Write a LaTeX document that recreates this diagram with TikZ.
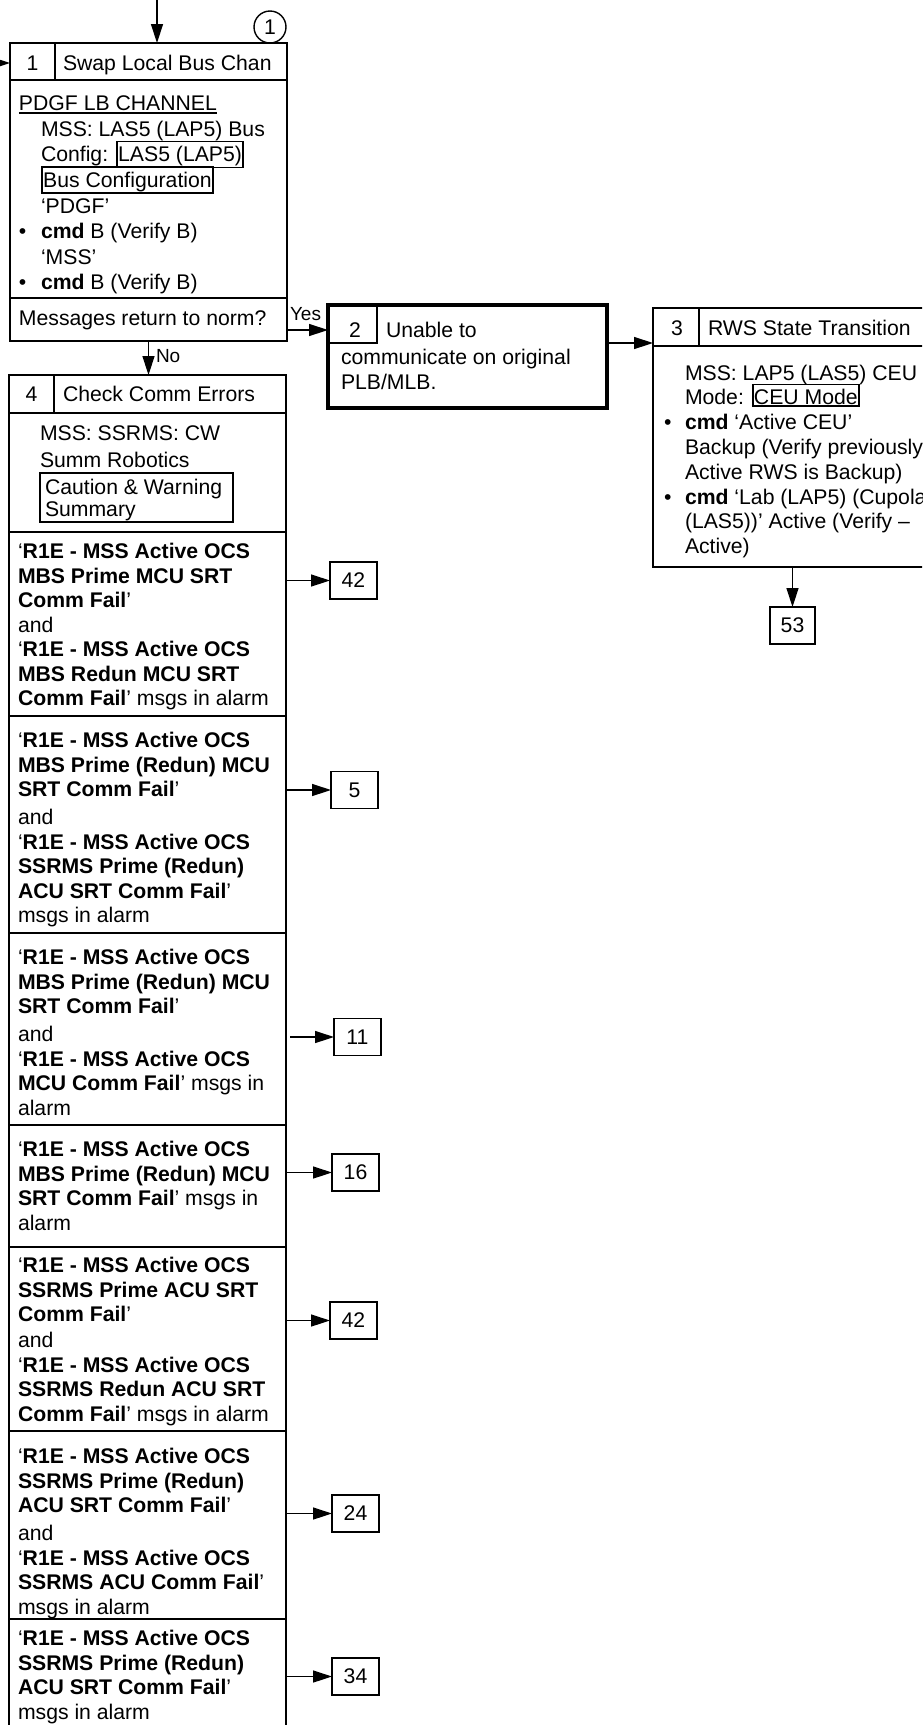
\documentclass[tikz,border=0pt]{standalone}
\usepackage{fontspec}
\setmainfont{Liberation Sans}
\usetikzlibrary{arrows.meta}
\newcommand\bx[1]{{\setlength\fboxsep{0.4pt}\setlength\fboxrule{1.8pt}\fbox{\rule{0pt}{19pt}#1}}}
\newcommand\myul[1]{\setbox0\hbox{#1}\rlap{\rule[-3.5pt]{\wd0}{1.7pt}}\box0}
\newcommand\firstln{\rule{0pt}{20pt}}
\newcommand\fsz[1]{\fontsize{21.2}{#1}\selectfont\lineskiplimit=-100pt\relax}
\begin{document}
\begin{tikzpicture}[x=1pt,y=-1pt,
  every node/.style={inner sep=0pt,outer sep=0pt},
  font={\fsz{24.5}},
  box/.style={draw,line width=2.2pt,anchor=north west},
  sepl/.style={line width=2pt},
  thinl/.style={line width=1.4pt},
  txt/.style={anchor=north west,align=left},
  lbl/.style={anchor=base west},
  refbox/.style={draw,line width=1.8pt,minimum width=47pt,minimum height=37pt},
  arr/.style={line width=1.4pt,-{Triangle[length=19pt,width=12pt]}}]
\path[use as bounding box] (0,0) rectangle (922,1725);
\clip (0,0) rectangle (922,1725);

% ---------- Box 1 ----------
\node[box,minimum width=277pt,minimum height=298pt] (b1) at (10,43) {};
\draw[sepl] (10,80) -- (287,80);
\draw[thinl] (55,43) -- (55,80);
\draw[sepl] (10,298) -- (287,298);
\node[anchor=base] (n1) at (32.5,70.6) {1};
\node[lbl] (h1) at (63,70.6) {Swap Local Bus Chan};
\node[txt,font={\fsz{25.6}}] (t1) at (19,90.6) {\firstln\myul{PDGF LB CHANNEL}\\
\hspace*{22pt}MSS: LAS5 (LAP5) Bus\\
\hspace*{22pt}Config: \bx{LAS5 (LAP5)}\\
\hspace*{22pt}\bx{Bus Configuration}\\
\hspace*{22pt}`PDGF'\\
\makebox[22pt][l]{\textbullet}\textbf{cmd} B (Verify B)\\
\hspace*{22pt}`MSS'\\
\makebox[22pt][l]{\textbullet}\textbf{cmd} B (Verify B)};
\node[txt] (t1m) at (19,305.6) {\firstln Messages return to norm?};
\node[draw,circle,thinl,minimum size=32pt] (c1) at (270,27) {1};

% ---------- Box 2 ----------
\node[box,line width=4.5pt,minimum width=279pt,minimum height=103pt] (b2) at (328,305) {};
\draw[thinl] (328,343) -| (377,305);
\node[anchor=base] (n2) at (355,337.6) {2};
\node[lbl] (h2) at (386,337.6) {Unable to};
\node[txt,font={\fsz{25}}] (t2) at (341,344.6) {\firstln communicate on original\\PLB/MLB.};

% ---------- Box 3 ----------
\node[box,minimum width=290pt,minimum height=259pt] (b3) at (653,308) {};
\draw[sepl] (653,346) -- (943,346);
\draw[thinl] (699,308) -- (699,346);
\node[anchor=base] (n3) at (677,335) {3};
\node[lbl] (h3) at (708,335) {RWS State Transition};
\node[txt,font={\fsz{24.8}}] (t3) at (664,360) {\firstln\hspace*{21pt}MSS: LAP5 (LAS5) CEU\\
\hspace*{21pt}Mode: \bx{CEU Mode}\\
\makebox[21pt][l]{\textbullet}\textbf{cmd} `Active CEU'\\
\hspace*{21pt}Backup (Verify previously\\
\hspace*{21pt}Active RWS is Backup)\\
\makebox[21pt][l]{\textbullet}\textbf{cmd} `Lab (LAP5) (Cupola\\
\hspace*{21pt}(LAS5))' Active (Verify --\\
\hspace*{21pt}Active)};
\node[refbox,minimum width=45pt] (r53) at (792.5,625.5) {53};

% ---------- Box 4 ----------
\node[box,minimum width=277pt,minimum height=1385pt] (b4) at (9,375) {};
\draw[sepl] (9,413) -- (286,413);
\draw[thinl] (54,375) -- (54,413);
\node[anchor=base] (n4) at (31.5,401.6) {4};
\node[lbl] (h4) at (63,401.6) {Check Comm Errors};
\node[txt,font={\fsz{27}}] (t4a) at (40,420.6) {\firstln MSS: SSRMS: CW\\Summ Robotics};
\node[draw,line width=1.8pt,anchor=north west,minimum width=193pt,minimum height=49pt] (cw) at (40,473) {};
\node[txt,font={\fsz{22}}] (t4b) at (45,474.6) {\firstln Caution \& Warning\\Summary};
\foreach \yy in {532,716,933,1125,1247,1431,1619} \draw[sepl] (9,\yy) -- (286,\yy);

\node[txt] (s1) at (18,538.6) {\firstln`\textbf{R1E - MSS Active OCS}\\
\textbf{MBS Prime MCU SRT}\\
\textbf{Comm Fail}'\\
and\\
`\textbf{R1E - MSS Active OCS}\\
\textbf{MBS Redun MCU SRT}\\
\textbf{Comm Fail}' msgs in alarm};

\node[txt] (s2) at (18,727.6) {\firstln`\textbf{R1E - MSS Active OCS}\\
\textbf{MBS Prime (Redun) MCU}\\
\textbf{SRT Comm Fail}'\\[3.5pt]
and\\
`\textbf{R1E - MSS Active OCS}\\
\textbf{SSRMS Prime (Redun)}\\
\textbf{ACU SRT Comm Fail}'\\
msgs in alarm};

\node[txt] (s3) at (18,944.6) {\firstln`\textbf{R1E - MSS Active OCS}\\
\textbf{MBS Prime (Redun) MCU}\\
\textbf{SRT Comm Fail}'\\[3.5pt]
and\\
`\textbf{R1E - MSS Active OCS}\\
\textbf{MCU Comm Fail}' msgs in\\
alarm};

\node[txt] (s4) at (18,1136.6) {\firstln`\textbf{R1E - MSS Active OCS}\\
\textbf{MBS Prime (Redun) MCU}\\
\textbf{SRT Comm Fail}' msgs in\\
alarm};

\node[txt] (s5) at (18,1252.6) {\firstln`\textbf{R1E - MSS Active OCS}\\
\textbf{SSRMS Prime ACU SRT}\\
\textbf{Comm Fail}'\\[1.5pt]
and\\
`\textbf{R1E - MSS Active OCS}\\
\textbf{SSRMS Redun ACU SRT}\\
\textbf{Comm Fail}' msgs in alarm};

\node[txt] (s6) at (18,1443.6) {\firstln`\textbf{R1E - MSS Active OCS}\\
\textbf{SSRMS Prime (Redun)}\\
\textbf{ACU SRT Comm Fail}'\\[3.5pt]
and\\
`\textbf{R1E - MSS Active OCS}\\
\textbf{SSRMS ACU Comm Fail}'\\
msgs in alarm};

\node[txt] (s7) at (18,1625.6) {\firstln`\textbf{R1E - MSS Active OCS}\\
\textbf{SSRMS Prime (Redun)}\\
\textbf{ACU SRT Comm Fail}'\\
msgs in alarm};

% ---------- reference boxes ----------
\node[refbox] (r42a) at (353.5,580.5) {42};
\node[refbox] (r5) at (354.5,790) {5};
\node[refbox] (r11) at (357.5,1037) {11};
\node[refbox] (r16) at (355.5,1172.5) {16};
\node[refbox] (r42b) at (353.5,1320.5) {42};
\node[refbox] (r24) at (355.5,1513.5) {24};
\node[refbox] (r34) at (355.5,1676.5) {34};

% ---------- connectors ----------
\coordinate (topin) at (157,0);
\coordinate (leftin) at (0,63);
\draw[arr] (topin) -- (topin |- b1.north);
\draw[arr] (leftin) -- (leftin -| b1.west);
\draw[arr] (b1.east |- 0,330) -- (b2.west |- 0,330);
\node[lbl,font={\fontsize{19}{22}\selectfont}] (yes) at (290,320) {Yes};
\draw[arr] (b1.south) -- (b1.south |- b4.north);
\node[lbl,font={\fontsize{19}{22}\selectfont}] (no) at (156,362) {No};
\draw[arr] (b2.east |- 0,343) -- (b3.west |- 0,343);
\draw[arr] (b3.south -| r53) -- (r53.north);
\draw[arr] (b4.east |- r42a) -- (r42a.west);
\draw[arr] (b4.east |- r5) -- (r5.west);
\draw[arr] ([xshift=4pt]b4.east |- r11) -- (r11.west);
\draw[arr] (b4.east |- r16) -- (r16.west);
\draw[arr] (b4.east |- r42b) -- (r42b.west);
\draw[arr] (b4.east |- r24) -- (r24.west);
\draw[arr] (b4.east |- r34) -- (r34.west);
\end{tikzpicture}
\end{document}
